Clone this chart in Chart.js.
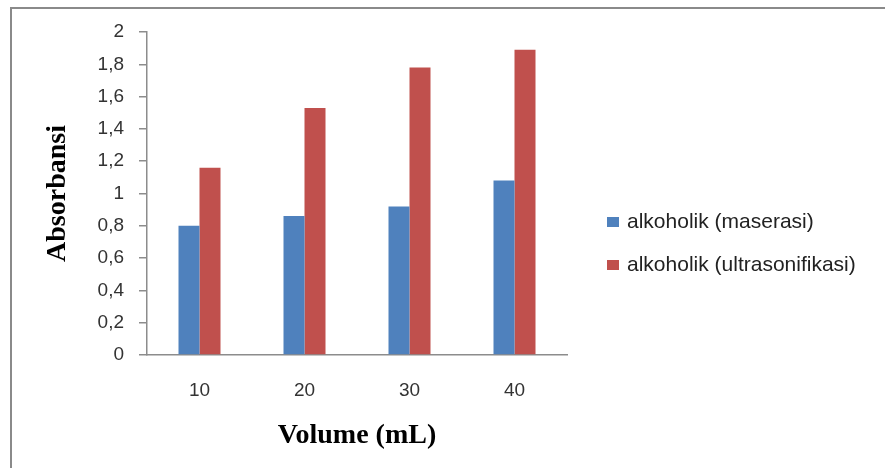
<!DOCTYPE html>
<html>
<head>
<meta charset="utf-8">
<script src="https://cdn.jsdelivr.net/npm/chart.js@4/dist/chart.umd.min.js"></script>
<style>
  body { margin: 0; background: #fff; }
  canvas { display: block; }
</style>
</head>
<body>
<canvas id="chart" width="885" height="468"></canvas>
<script>
const volumes = ['10', '20', '30', '40'];
const maserasi = [0.80, 0.86, 0.92, 1.08];
const ultrasonifikasi = [1.16, 1.53, 1.78, 1.89];
const yTickLabels = ['0', '0,2', '0,4', '0,6', '0,8', '1', '1,2', '1,4', '1,6', '1,8', '2'];

const axisColor = '#8c8c8c';
const tickFont = { family: "'Liberation Sans', sans-serif", size: 19 };
const titleFont = { family: "'Liberation Serif', 'Times New Roman', serif", size: 28, weight: 'bold' };

// frame lines on the left and top of the picture
const framePlugin = {
    id: 'frame',
    beforeDraw(chart) {
        const ctx = chart.ctx;
        ctx.save();
        ctx.strokeStyle = '#8a8a8a';
        ctx.lineWidth = 2;
        ctx.beginPath();
        ctx.moveTo(11, 468);
        ctx.lineTo(11, 8);
        ctx.lineTo(885, 8);
        ctx.stroke();
        ctx.restore();
    }
};

// legend drawn to the right of the plot
const sideLegend = {
    id: 'sideLegend',
    afterDraw(chart) {
        const ctx = chart.ctx;
        ctx.save();
        ctx.font = "21px 'Liberation Sans', sans-serif";
        ctx.textBaseline = 'middle';
        chart.data.datasets.forEach((ds, i) => {
            const y = 222 + i * 43;
            ctx.fillStyle = ds.backgroundColor;
            ctx.fillRect(607, y - 5, 12, 10);
            ctx.fillStyle = '#222';
            ctx.fillText(ds.label, 627, y);
        });
        ctx.restore();
    }
};

new Chart(document.getElementById('chart'), {
    type: 'bar',
    data: {
        labels: volumes,
        datasets: [
            { label: 'alkoholik (maserasi)', data: maserasi, backgroundColor: '#4f81bd' },
            { label: 'alkoholik (ultrasonifikasi)', data: ultrasonifikasi, backgroundColor: '#c0504d' }
        ]
    },
    options: {
        responsive: false,
        devicePixelRatio: 1,
        animation: false,
        layout: { padding: { left: 0, top: 32, right: 318, bottom: 0 } },
        datasets: { bar: { barPercentage: 1, categoryPercentage: 0.4 } },
        plugins: { legend: { display: false }, tooltip: { enabled: false } },
        scales: {
            x: {
                grid: { display: false, drawTicks: false },
                border: { display: true, color: axisColor, width: 1.5 },
                ticks: { color: '#333', font: tickFont, padding: 24 },
                title: { display: true, text: 'Volume (mL)', color: '#000', font: titleFont, padding: { top: 0, bottom: 15 } },
                afterFit(scale) { scale.height = 113; }
            },
            y: {
                min: 0,
                max: 2,
                grid: { display: true, drawOnChartArea: false, drawTicks: true, tickLength: 8, color: axisColor, lineWidth: 1.5 },
                border: { display: true, color: axisColor, width: 1.5 },
                ticks: {
                    stepSize: 0.2,
                    color: '#333',
                    font: tickFont,
                    padding: 15,
                    callback: (v, i) => yTickLabels[i]
                },
                title: { display: true, text: 'Absorbansi', color: '#000', font: titleFont, padding: { top: 41, bottom: 0 } },
                afterFit(scale) { scale.width = 147; }
            }
        }
    },
    plugins: [framePlugin, sideLegend]
});
</script>
</body>
</html>
